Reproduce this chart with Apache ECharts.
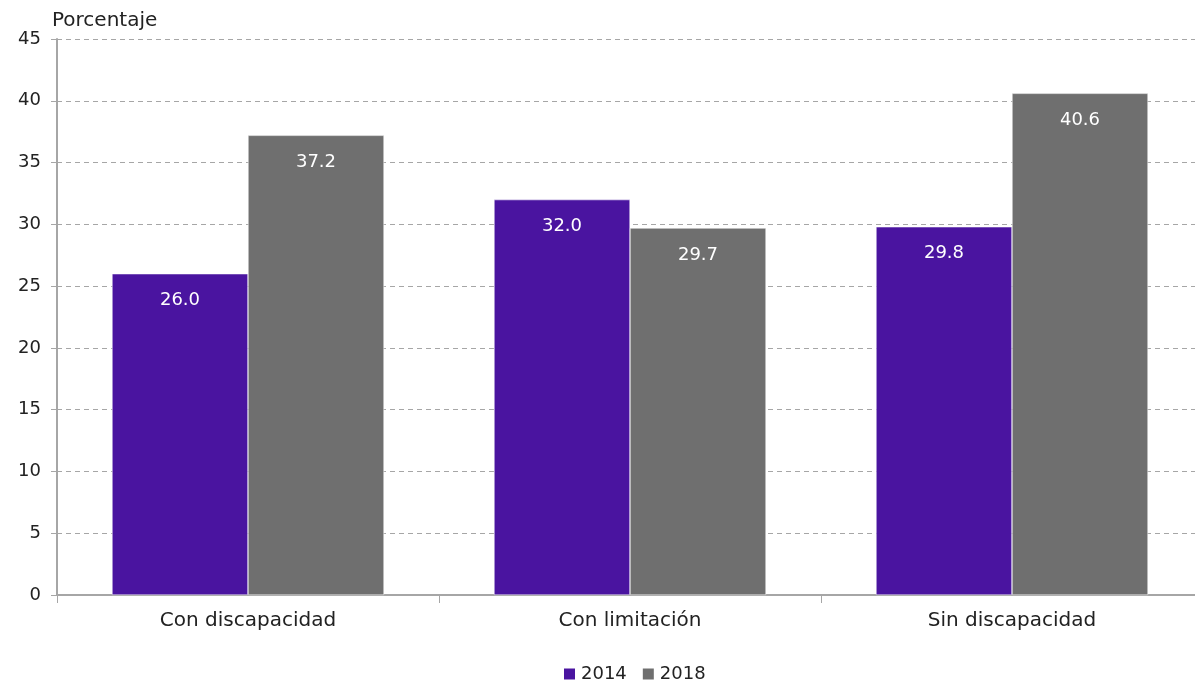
<!DOCTYPE html>
<html><head><meta charset="utf-8">
<script src="https://cdn.jsdelivr.net/npm/echarts@6/dist/echarts.min.js"></script>
<style>html,body{margin:0;padding:0;background:#fff}#c{width:1195px;height:681px}</style>
</head><body><div id="c"></div>
<script>
const categories = ["Con discapacidad", "Con limitación", "Sin discapacidad"];
const seriesNames = ["2014", "2018"];
const values2014 = [26.0, 32.0, 29.8];
const values2018 = [37.2, 29.7, 40.6];
const colors = ["#4a14a0", "#6f6f6f"];
const font = "DejaVu Sans";
const chart = echarts.init(document.getElementById('c'), null, {renderer: 'canvas'});
const lbl = {show: true, position: 'insideTop', distance: 18, color: '#fff', fontSize: 18, fontFamily: font, formatter: p => p.value.toFixed(1)};
chart.setOption({
  animation: false,
  textStyle: {fontFamily: font},
  grid: {left: 57, top: 39, width: 1146, bottom: 86, containLabel: false, outerBoundsMode: 'none'},
  legend: {top: 665, left: 562, padding: 0, itemWidth: 13, itemHeight: 13, itemGap: 14, icon: 'rect',
    textStyle: {fontSize: 18, color: '#222', fontFamily: font}, data: seriesNames},
  xAxis: {type: 'category', data: categories,
    axisLine: {lineStyle: {color: '#a6a6a6', width: 2}},
    axisTick: {show: true, length: 8, lineStyle: {color: '#a6a6a6'}},
    axisLabel: {fontSize: 20, color: '#222', margin: 16, fontFamily: font}},
  yAxis: {type: 'value', min: 0, max: 45, interval: 5, name: 'Porcentaje',
    nameLocation: 'end', nameGap: 8,
    nameTextStyle: {fontSize: 20, color: '#222', align: 'left', padding: [0,0,0,-5], fontFamily: font},
    axisLine: {show: true, lineStyle: {color: '#a6a6a6', width: 2}},
    axisTick: {show: true, length: 6, lineStyle: {color: '#a6a6a6'}},
    axisLabel: {fontSize: 18, color: '#222', margin: 16, fontFamily: font},
    splitLine: {lineStyle: {color: '#a6a6a6', type: [5, 4], width: 1}}},
  series: [
    {name: seriesNames[0], type: 'bar', data: values2014, barWidth: 136, barGap: '0%',
     itemStyle: {color: colors[0], borderColor: '#fff', borderWidth: 0.5}, label: lbl},
    {name: seriesNames[1], type: 'bar', data: values2018, barWidth: 136, barGap: '0%',
     itemStyle: {color: colors[1], borderColor: '#fff', borderWidth: 0.5}, label: lbl}
  ]
});
</script></body></html>
